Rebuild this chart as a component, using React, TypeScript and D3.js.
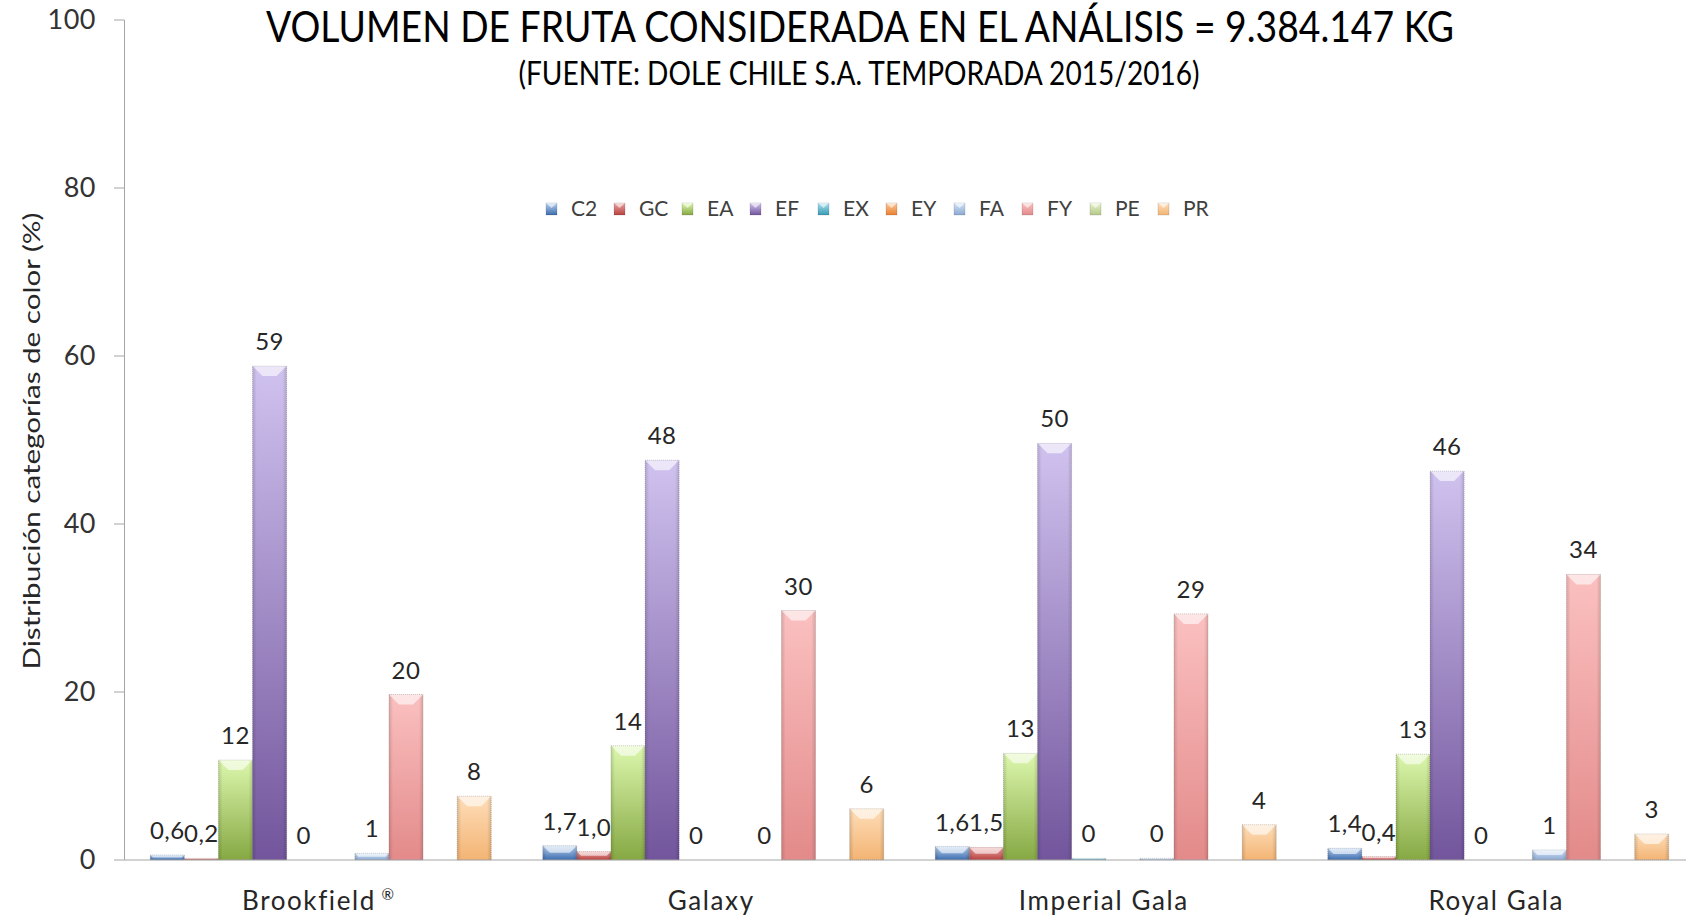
import React from "react";
import * as d3 from "d3";

const categories = ["Brookfield", "Galaxy", "Imperial Gala", "Royal Gala"];
const seriesNames = ["C2", "GC", "EA", "EF", "EX", "EY", "FA", "FY", "PE", "PR"];

const c2 = [0.6, 1.7, 1.6, 1.4];
const gc = [0.2, 1.0, 1.5, 0.4];
const ea = [11.9, 13.6, 12.7, 12.6];
const ef = [58.8, 47.6, 49.6, 46.3];
const ex = [0, 0, 0.2, 0];
const ey: (number | null)[] = [null, null, null, null];
const fa = [0.8, 0, 0.2, 1.2];
const fy = [19.7, 29.7, 29.3, 34.0];
const pe: (number | null)[] = [null, null, null, null];
const pr = [7.6, 6.1, 4.2, 3.1];

const seriesValues: (number | null)[][] = [c2, gc, ea, ef, ex, ey, fa, fy, pe, pr];
const decimalSeries = ["C2", "GC"];

const yTicks = [0, 20, 40, 60, 80, 100];

const lightColors = ["#b9d1f0", "#eaa3a1", "#dcf7ad", "#d0c2ef", "#a8e0ee", "#fcc79a", "#d2e3f8", "#fbc0c0", "#e6f2c8", "#feddb8"];
const darkColors = ["#3c6cae", "#b8423f", "#86a843", "#72559c", "#3a9ab5", "#e98030", "#8ba9d2", "#e38a8a", "#b4c98a", "#f3b474"];

const W = 1686;
const H = 918;
const FONT = "Lato, 'Open Sans', sans-serif";

export default function App() {
  const x0 = d3.scaleBand<string>().domain(categories).range([124.5, 1694.5]).padding(0);
  const x1 = d3.scaleBand<string>().domain(seriesNames).range([25.75, x0.bandwidth() - 25.75]).padding(0);
  const y = d3.scaleLinear().domain([0, 100]).range([860, 20]);
  const legendX = d3.scalePoint<string>().domain(seriesNames).range([546, 1158]);

  const fmt = (s: string, v: number) =>
    decimalSeries.includes(s) ? v.toFixed(1).replace(".", ",") : String(Math.round(v));

  const bars: React.ReactNode[] = [];
  const labels: React.ReactNode[] = [];
  categories.forEach((cat, ci) => {
    seriesNames.forEach((s, si) => {
      const v = seriesValues[si][ci];
      if (v === null || v === undefined) return;
      const bx = (x0(cat) as number) + (x1(s) as number);
      const bw = x1.bandwidth();
      const top = y(v);
      const bottom = y(0);
      const h = bottom - top;
      if (h > 0.3) {
        const b = Math.min(10, h / 2, bw / 3);
        bars.push(
          <g key={`b-${ci}-${si}`}>
            <rect x={bx} y={top} width={bw} height={h} fill={`url(#grad-${si})`} />
            <rect x={bx} y={top} width={bw} height={h} fill="url(#side)" />
            <polygon
              points={`${bx},${top} ${bx + bw},${top} ${bx + bw - b},${top + b} ${bx + b},${top + b}`}
              fill="#ffffff"
              opacity={0.6}
            />
            <rect x={bx} y={top} width={bw} height={h} fill="none" stroke="rgba(0,0,0,0.18)" strokeWidth={1} strokeDasharray="1 1" />
          </g>
        );
      }
      labels.push(
        <text
          key={`l-${ci}-${si}`}
          x={bx + bw / 2}
          y={top - 16}
          textAnchor="middle"
          fontSize={24}
          letterSpacing={0.5}
          fontFamily={FONT}
          fill="#262626"
        >
          {fmt(s, v)}
        </text>
      );
    });
  });

  return (
    <svg width={W} height={H} style={{ position: "absolute", left: 0, top: 0, background: "#fff" }}>
      <defs>
        {seriesNames.map((s, i) => (
          <linearGradient key={s} id={`grad-${i}`} x1="0" y1="0" x2="0" y2="1">
            <stop offset="0%" stopColor={lightColors[i]} />
            <stop offset="100%" stopColor={darkColors[i]} />
          </linearGradient>
        ))}
        <linearGradient id="side" x1="0" y1="0" x2="1" y2="0">
          <stop offset="0%" stopColor="#000" stopOpacity={0.14} />
          <stop offset="12%" stopColor="#000" stopOpacity={0} />
          <stop offset="88%" stopColor="#000" stopOpacity={0} />
          <stop offset="100%" stopColor="#000" stopOpacity={0.14} />
        </linearGradient>
      </defs>

      {/* Title */}
      <text x={860} y={42} textAnchor="middle" fontSize={42} fontFamily={FONT} fill="#000" textLength={1188} lengthAdjust="spacingAndGlyphs">
        VOLUMEN DE FRUTA CONSIDERADA EN EL ANÁLISIS = 9.384.147 KG
      </text>
      <text x={859} y={85} textAnchor="middle" fontSize={32} fontFamily={FONT} fill="#000" textLength={681} lengthAdjust="spacingAndGlyphs">
        (FUENTE: DOLE CHILE S.A. TEMPORADA 2015/2016)
      </text>

      {/* Y axis */}
      <line x1={124.5} x2={124.5} y1={y(100)} y2={y(0)} stroke="#a6a6a6" strokeWidth={1} />
      {yTicks.map((t) => (
        <g key={t}>
          <line x1={114} x2={124.5} y1={y(t)} y2={y(t)} stroke="#a6a6a6" strokeWidth={1} />
          <text x={96} y={y(t)} dy="0.35em" textAnchor="end" fontSize={27} letterSpacing={0.5} fontFamily={FONT} fill="#333">
            {t}
          </text>
        </g>
      ))}
      <text
        transform="translate(32,441) rotate(-90)"
        textAnchor="middle"
        dy="0.35em"
        fontSize={24}
        fontFamily={FONT}
        fill="#262626"
        textLength={457}
        lengthAdjust="spacingAndGlyphs"
      >
        Distribución categorías de color (%)
      </text>

      {/* Bars */}
      {bars}

      {/* X axis */}
      <line x1={124.5} x2={W} y1={y(0)} y2={y(0)} stroke="#a6a6a6" strokeWidth={1} />
      {categories.map((c) => (
        <text key={c} x={(x0(c) as number) + x0.bandwidth() / 2 - 2} y={910} textAnchor="middle" fontSize={26} letterSpacing={1.6} fontFamily={FONT} fill="#262626">
          {c}
          {c === "Brookfield" ? (
            <tspan fontSize={15} dy={-10}> ®</tspan>
          ) : null}
        </text>
      ))}

      {/* Labels */}
      {labels}

      {/* Legend */}
      {seriesNames.map((s, i) => {
        const lx = legendX(s) as number;
        return (
          <g key={`lg-${s}`}>
            <rect x={lx} y={203} width={11} height={12} fill={`url(#grad-${i})`} stroke="rgba(0,0,0,0.15)" strokeWidth={0.8} />
            <polygon points={`${lx},203 ${lx + 11},203 ${lx + 5.5},208`} fill="#fff" opacity={0.6} />
            <text x={lx + 25} y={209} dy="0.35em" fontSize={21} fontFamily={FONT} fill="#404040">
              {s}
            </text>
          </g>
        );
      })}
    </svg>
  );
}
